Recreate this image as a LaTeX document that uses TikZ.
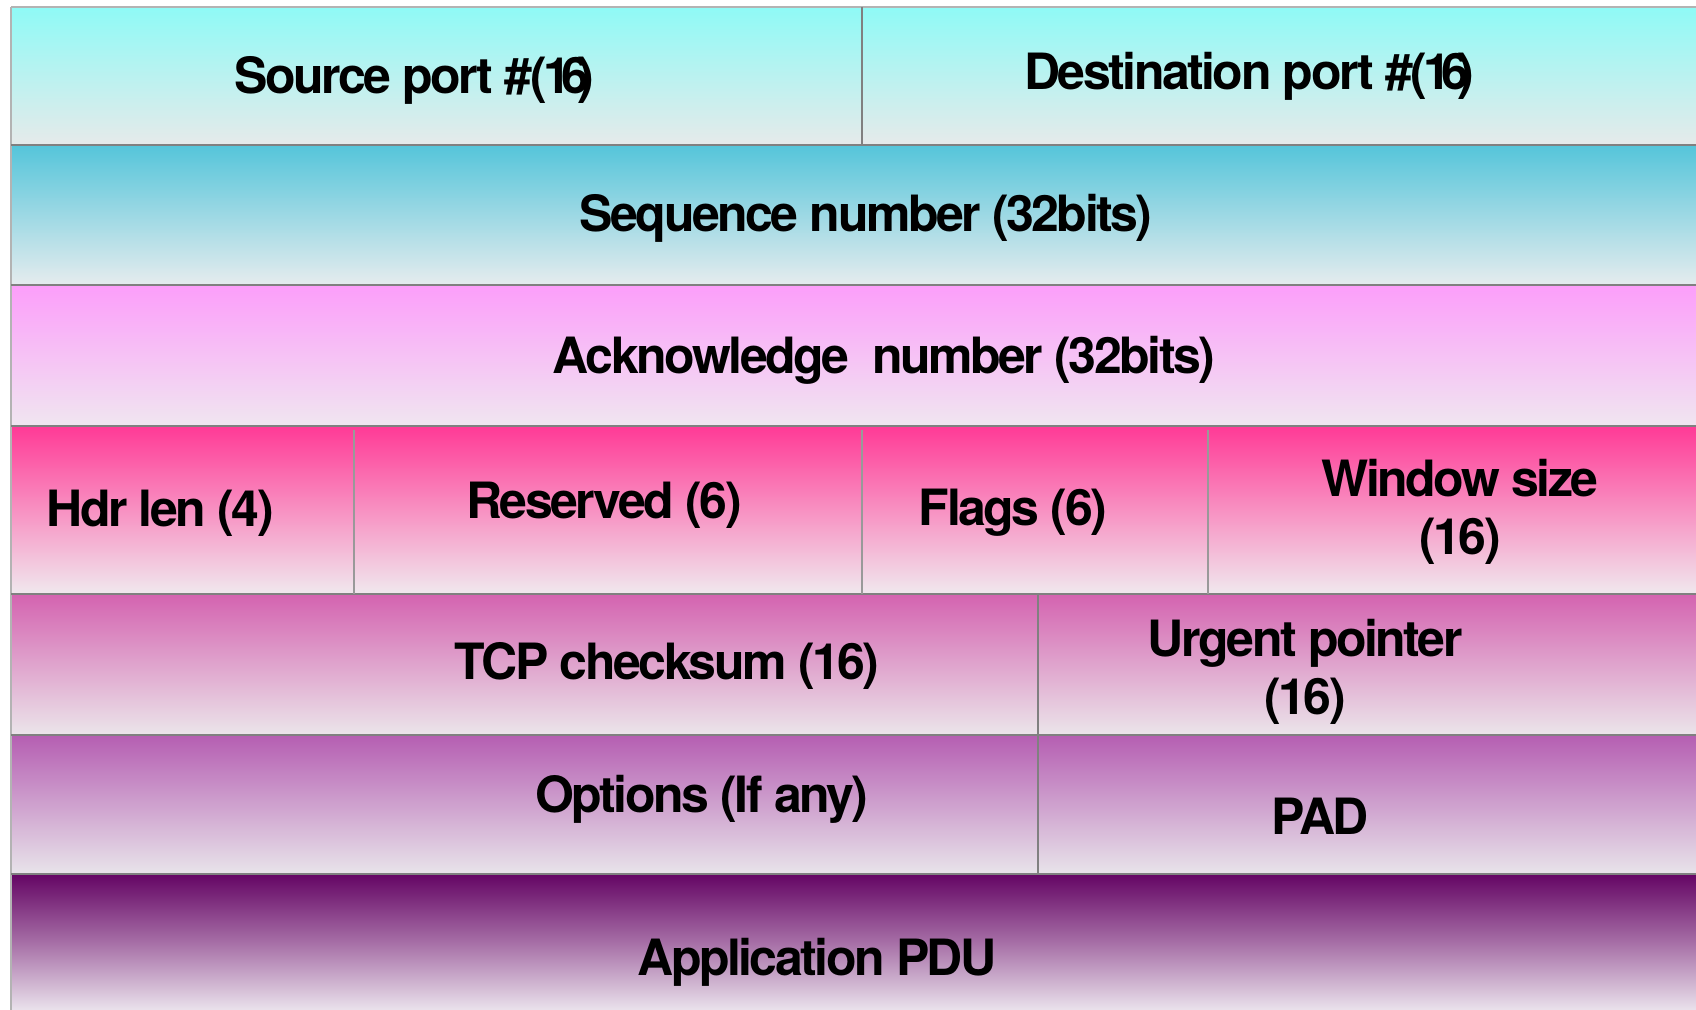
\documentclass[tikz,border=0pt]{standalone}
\usepackage{fontspec}
\newfontfamily\lbl[LetterSpace=-5]{TeX Gyre Heros}
\usetikzlibrary{shadings}
\definecolor{r1t}{RGB}{143,250,246}\definecolor{r1b}{RGB}{230,234,234}
\definecolor{r2t}{RGB}{85,197,218}\definecolor{r2b}{RGB}{229,236,238}
\definecolor{r3t}{RGB}{252,158,250}\definecolor{r3b}{RGB}{240,230,240}
\definecolor{r4t}{RGB}{255,58,150}\definecolor{r4b}{RGB}{240,232,238}
\definecolor{r5t}{RGB}{212,99,176}\definecolor{r5b}{RGB}{235,229,234}
\definecolor{r6t}{RGB}{181,94,178}\definecolor{r6b}{RGB}{232,228,234}
\definecolor{r7t}{RGB}{100,5,100}\definecolor{r7b}{RGB}{234,226,236}
\definecolor{rule}{RGB}{128,128,128}
\newcommand{\crunch}{\#\kern-1pt(\kern-2pt1\kern-5pt6\kern-6pt)}
\tikzset{
  lab/.style={font=\lbl\bfseries\fontsize{25}{29}\selectfont, text=black, align=center, inner sep=0pt},
  rulel/.style={draw=rule, line width=0.8pt},
}
\begin{document}
\begin{tikzpicture}[x=0.5pt,y=-0.5pt]
\useasboundingbox (0,0) rectangle (1696,1010);
\fill[white] (0,0) rectangle (1696,1010);
% rows
\shade[top color=r1t, bottom color=r1b] (11,7) rectangle (1696,145);
\shade[top color=r2t, bottom color=r2b] (11,145) rectangle (1696,285);
\shade[top color=r3t, bottom color=r3b] (11,285) rectangle (1696,426);
\shade[top color=r4t, bottom color=r4b] (11,426) rectangle (1696,594);
\shade[top color=r5t, bottom color=r5b] (11,594) rectangle (1696,735);
\shade[top color=r6t, bottom color=r6b] (11,735) rectangle (1696,874);
\shade[top color=r7t, bottom color=r7b, middle color={rgb,255:red,166;green,110;blue,166}] (11,874) rectangle (1696,1010);
% rules
\draw[rulel, draw=rule!60] (11,7) -- (1696,7);
\draw[rulel, draw=rule!60] (11,7) -- (11,1010);
\foreach \y in {145,285,426,594,735,874} \draw[rulel] (11,\y) -- (1696,\y);
\draw[rulel] (862,7) -- (862,145);
\draw[rulel, draw=rule!80] (354,430) -- (354,594);
\draw[rulel, draw=rule!80] (862,430) -- (862,594);
\draw[rulel, draw=rule!80] (1208,430) -- (1208,594);
\draw[rulel] (1038,594) -- (1038,874);
% labels
\node[lab] (src) at (414,80) {Source port \crunch};
\node[lab] (dst) at (1249,76) {Destination port \crunch};
\node[lab] (seq) at (866,218) {Sequence number (32bits)};
\node[lab] (ack) at (884,360) {Acknowledge\ \ number (32bits)};
\node[lab] (hdr) at (160,513) {Hdr len (4)};
\node[lab] (res) at (604,505) {Reserved (6)};
\node[lab] (flg) at (1013,513) {Flags (6)};
\node[lab] (win) at (1460,512) {Window size\\(16)};
\node[lab] (chk) at (667,666) {TCP checksum (16)};
\node[lab] (urg) at (1305,672) {Urgent pointer\\(16)};
\node[lab] (opt) at (702,799) {Options (If any)};
\node[lab] (pad) at (1320,816) {PAD};
\node[lab] (app) at (817,962) {Application PDU};
\end{tikzpicture}
\end{document}
